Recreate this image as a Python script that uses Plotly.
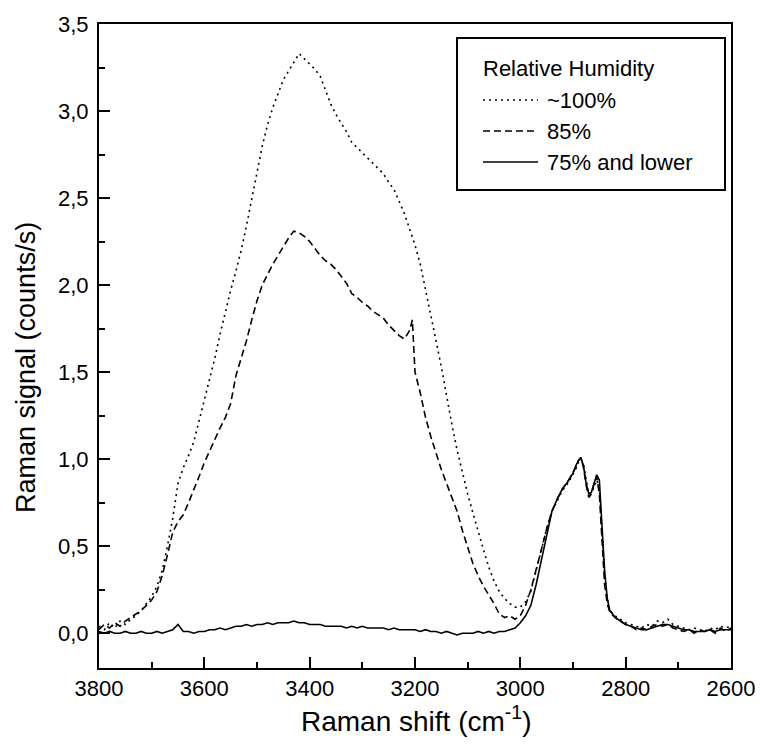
import plotly.graph_objects as go

# Raman shift grid (cm^-1)
wavenumber = [
    3800, 3790, 3780, 3770, 3760, 3750, 3740, 3730, 3720, 3710,
    3700, 3690, 3680, 3670, 3660, 3650, 3640, 3630, 3620, 3610,
    3600, 3590, 3580, 3570, 3560, 3550, 3540, 3530, 3520, 3510,
    3500, 3490, 3480, 3470, 3460, 3450, 3440, 3430, 3420, 3410,
    3400, 3390, 3380, 3370, 3360, 3350, 3340, 3330, 3320, 3310,
    3300, 3290, 3280, 3270, 3260, 3250, 3240, 3230, 3220, 3210,
    3205, 3200, 3190, 3180, 3170, 3160, 3150, 3140, 3130, 3120,
    3110, 3100, 3090, 3080, 3070, 3060, 3050, 3040, 3030, 3020,
    3010, 3000, 2990, 2980, 2970, 2960, 2950, 2940, 2930, 2920,
    2910, 2900, 2895, 2890, 2885, 2880, 2875, 2870, 2865, 2860,
    2855, 2850, 2845, 2840, 2835, 2830, 2820, 2810, 2800, 2790,
    2780, 2770, 2760, 2750, 2740, 2730, 2720, 2710, 2700, 2690,
    2680, 2670, 2660, 2650, 2640, 2630, 2620, 2610, 2600,
]

rh_100 = [
    0.04, 0.02, 0.06, 0.03, 0.07, 0.05, 0.08, 0.10, 0.13, 0.17,
    0.21, 0.27, 0.36, 0.50, 0.66, 0.86, 0.95, 1.02, 1.10, 1.22,
    1.34, 1.45, 1.58, 1.72, 1.85, 1.97, 2.08, 2.20, 2.34, 2.50,
    2.66, 2.80, 2.92, 3.02, 3.10, 3.18, 3.23, 3.28, 3.33, 3.30,
    3.27, 3.24, 3.20, 3.12, 3.04, 2.98, 2.93, 2.88, 2.82, 2.79,
    2.76, 2.73, 2.70, 2.67, 2.64, 2.59, 2.55, 2.48, 2.41, 2.32,
    2.28, 2.23, 2.12, 1.98, 1.84, 1.68, 1.53, 1.36, 1.20, 1.05,
    0.92, 0.80, 0.69, 0.58, 0.48, 0.38, 0.30, 0.24, 0.20, 0.17,
    0.15, 0.15, 0.18, 0.24, 0.36, 0.48, 0.60, 0.70, 0.76, 0.82,
    0.86, 0.91, 0.94, 0.98, 1.00, 0.97, 0.88, 0.80, 0.80, 0.84,
    0.88, 0.84, 0.60, 0.33, 0.20, 0.13, 0.10, 0.08, 0.06, 0.05,
    0.04, 0.03, 0.05, 0.04, 0.07, 0.06, 0.08, 0.05, 0.04, 0.03,
    0.02, 0.03, 0.02, 0.01, 0.03, 0.02, 0.04, 0.03, 0.04,
]

rh_85 = [
    0.02, 0.05, 0.03, 0.06, 0.04, 0.07, 0.09, 0.11, 0.13, 0.16,
    0.19, 0.24, 0.33, 0.45, 0.58, 0.64, 0.68, 0.75, 0.82, 0.90,
    0.98, 1.05, 1.12, 1.18, 1.24, 1.32, 1.48, 1.58, 1.68, 1.80,
    1.91, 2.00, 2.06, 2.12, 2.17, 2.22, 2.27, 2.31, 2.30, 2.28,
    2.25, 2.21, 2.17, 2.14, 2.12, 2.09, 2.05, 2.01, 1.95, 1.93,
    1.90, 1.88, 1.85, 1.83, 1.81, 1.77, 1.74, 1.71, 1.69, 1.74,
    1.80, 1.50, 1.38, 1.24, 1.13, 1.03, 0.94, 0.86, 0.78, 0.70,
    0.59, 0.49, 0.40, 0.33, 0.27, 0.22, 0.17, 0.11, 0.09, 0.10,
    0.08, 0.10, 0.16, 0.25, 0.36, 0.48, 0.60, 0.70, 0.77, 0.83,
    0.87, 0.92, 0.95, 0.99, 1.01, 0.95, 0.85, 0.78, 0.80, 0.86,
    0.90, 0.80, 0.52, 0.28, 0.17, 0.12, 0.09, 0.07, 0.05, 0.04,
    0.02, 0.03, 0.02, 0.04, 0.05, 0.04, 0.05, 0.03, 0.02, 0.01,
    0.02, 0.00, 0.02, 0.01, 0.02, 0.00, 0.03, 0.01, 0.03,
]

rh_75 = [
    0.01, 0.00, 0.01, 0.00, 0.00, 0.01, 0.00, 0.00, 0.01, 0.00,
    0.00, 0.01, 0.00, 0.01, 0.02, 0.05, 0.01, 0.01, 0.00, 0.01,
    0.01, 0.02, 0.02, 0.03, 0.02, 0.03, 0.04, 0.04, 0.05, 0.04,
    0.05, 0.05, 0.06, 0.05, 0.06, 0.06, 0.06, 0.07, 0.06, 0.06,
    0.05, 0.05, 0.05, 0.04, 0.04, 0.04, 0.04, 0.03, 0.04, 0.03,
    0.04, 0.03, 0.03, 0.03, 0.03, 0.02, 0.03, 0.02, 0.02, 0.02,
    0.02, 0.02, 0.01, 0.02, 0.01, 0.01, 0.00, 0.01, 0.00, -0.01,
    0.00, 0.00, 0.00, 0.01, 0.00, 0.01, 0.00, 0.01, 0.01, 0.02,
    0.03, 0.06, 0.10, 0.16, 0.28, 0.42, 0.56, 0.70, 0.77, 0.83,
    0.87, 0.92, 0.96, 0.99, 1.01, 0.96, 0.86, 0.80, 0.81, 0.86,
    0.91, 0.88, 0.62, 0.36, 0.20, 0.13, 0.09, 0.07, 0.05, 0.04,
    0.03, 0.02, 0.02, 0.03, 0.04, 0.05, 0.05, 0.04, 0.03, 0.02,
    0.02, 0.01, 0.01, 0.01, 0.02, 0.01, 0.02, 0.02, 0.02,
]

series_names = ["~100%", "85%", "75% and lower"]
legend_title = "Relative Humidity"
x_title = "Raman shift (cm<sup>-1</sup>)"
y_title = "Raman signal (counts/s)"

FONT = "Liberation Sans, Arial, Helvetica, sans-serif"
W, H = 760, 751
# plot-area edges, in window pixels
L, R, T, B = 99, 731, 24, 668
dashes = ["2px,4px", "7px,4px", "solid"]
widths = [1.6, 1.6, 1.6]

fig = go.Figure()
for name, ys, d, w in zip(series_names, [rh_100, rh_85, rh_75], dashes, widths):
    fig.add_trace(go.Scatter(
        x=wavenumber, y=ys, mode="lines", name=name,
        line=dict(color="black", width=w, dash=d),
        showlegend=False, hoverinfo="skip",
    ))

def px(xp):
    return (xp - L) / (R - L)

def py(yp):
    return (B - yp) / (B - T)

# Hand-built legend box (positions in paper coordinates)
shapes = [dict(type="rect", xref="paper", yref="paper",
               x0=px(457), x1=px(725), y0=py(190), y1=py(38),
               line=dict(color="black", width=2), fillcolor="white", layer="above")]
annotations = [dict(text=legend_title, xref="paper", yref="paper",
                    x=px(481), y=py(68), xanchor="left", yanchor="middle",
                    showarrow=False, font=dict(family=FONT, size=22, color="black"))]
for i, (name, d) in enumerate(zip(series_names, dashes)):
    yy = py(100 + i * 31)
    shapes.append(dict(type="line", xref="paper", yref="paper",
                       x0=px(483), x1=px(538), y0=yy, y1=yy,
                       line=dict(color="black", width=1.6, dash=d), layer="above"))
    annotations.append(dict(text=name, xref="paper", yref="paper",
                            x=px(545), y=yy, xanchor="left", yanchor="middle",
                            showarrow=False, font=dict(family=FONT, size=22, color="black")))

# axis titles as annotations for exact placement
annotations.append(dict(text=y_title, xref="paper", yref="paper",
                        x=px(26), y=py(368), xanchor="center", yanchor="middle",
                        textangle=-90, showarrow=False,
                        font=dict(family=FONT, size=27, color="black")))
annotations.append(dict(text=x_title, xref="paper", yref="paper",
                        x=px(416), y=py(719), xanchor="center", yanchor="middle",
                        showarrow=False,
                        font=dict(family=FONT, size=28, color="black")))

fig.update_layout(
    width=W, height=H,
    margin=dict(l=L, r=W - R, t=T, b=H - B, autoexpand=False),
    paper_bgcolor="white", plot_bgcolor="white",
    separators=", ",
    font=dict(family=FONT, size=22, color="black"),
    shapes=shapes, annotations=annotations,
    showlegend=False,
)
fig.update_xaxes(
    range=[3800, 2600], autorange=False,
    tickmode="linear", tick0=2600, dtick=200,
    ticks="inside", ticklen=11, tickwidth=1.5, tickcolor="black",
    minor=dict(ticks="inside", ticklen=6, tickwidth=1.5, dtick=100, tick0=2600, tickcolor="black"),
    showline=True, linecolor="black", linewidth=2, mirror=True,
    showgrid=False, zeroline=False,
    tickfont=dict(family=FONT, size=22, color="black"),
)
fig.update_yaxes(
    range=[-0.2, 3.5], autorange=False,
    tickmode="linear", tick0=0, dtick=0.5, tickformat=".1f",
    ticks="inside", ticklen=11, tickwidth=1.5, tickcolor="black",
    minor=dict(ticks="inside", ticklen=6, tickwidth=1.5, dtick=0.25, tick0=0, tickcolor="black"),
    showline=True, linecolor="black", linewidth=2, mirror=True,
    showgrid=False, zeroline=False,
    tickfont=dict(family=FONT, size=22, color="black"),
    ticklabelstandoff=4,
)

fig.write_html("out.html",
               config={"displayModeBar": False},
               post_script="document.body.style.margin='0';document.body.style.overflow='hidden';")
